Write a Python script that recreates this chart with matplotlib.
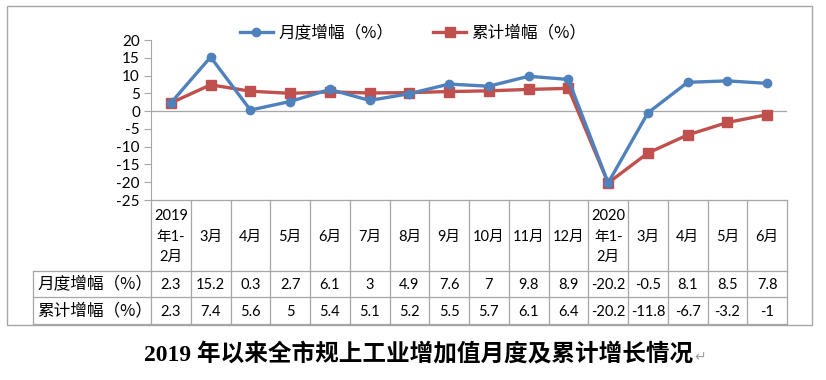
import matplotlib
matplotlib.use('Agg')
import matplotlib.pyplot as plt
from matplotlib.patches import Rectangle

plt.rcParams['font.family'] = ['Lato', 'Noto Sans CJK SC', 'DejaVu Sans']

# data
months = ['2019\n年1-\n2月', '3月', '4月', '5月', '6月', '7月', '8月', '9月', '10月',
          '11月', '12月', '2020\n年1-\n2月', '3月', '4月', '5月', '6月']
monthly = [2.3, 15.2, 0.3, 2.7, 6.1, 3, 4.9, 7.6, 7, 9.8, 8.9, -20.2, -0.5, 8.1, 8.5, 7.8]
cumulative = [2.3, 7.4, 5.6, 5, 5.4, 5.1, 5.2, 5.5, 5.7, 6.1, 6.4, -20.2, -11.8, -6.7, -3.2, -1]
series_names = ['月度增幅（%）', '累计增幅（%）']
yticks = [20, 15, 10, 5, 0, -5, -10, -15, -20, -25]

blue = '#4F81BD'
red = '#C0504D'
grid_c = '#A6A6A6'

W, H = 826, 380
fig = plt.figure(figsize=(W / 100, H / 100), dpi=100)

# background axes in pixel coords for frame, table and title
bg = fig.add_axes([0, 0, 1, 1])
bg.set_xlim(0, W)
bg.set_ylim(H, 0)
bg.axis('off')

left, right, top, bottom = 151, 787, 40, 200
row1, row2, row3 = 271, 297, 324
lab_left = 33

bg.add_patch(Rectangle((7, 6), 805, 319, fill=False, ec=grid_c, lw=1))

ax = fig.add_axes([left / W, 1 - bottom / H, (right - left) / W, (bottom - top) / H])
n = len(months)
xs = [i + 0.5 for i in range(n)]
ax.set_xlim(0, n)
ax.set_ylim(-25, 20)
ax.axhline(0, color=grid_c, lw=0.9, zorder=1)
l1, = ax.plot(xs, monthly, color=blue, lw=2.4, marker='o', ms=6, zorder=3)
l2, = ax.plot(xs, cumulative, color=red, lw=2.4, marker='s', ms=6.5, zorder=2)
ax.set_yticks(yticks)
ax.set_yticklabels([str(v) for v in yticks], fontsize=11)
ax.set_xticks([])
for s in ['top', 'right', 'bottom']:
    ax.spines[s].set_visible(False)
ax.spines['left'].set_color(grid_c)
ax.tick_params(axis='y', length=5, color=grid_c, pad=3, colors='#000000')
ax.patch.set_alpha(0)

leg = fig.legend([l1, l2], series_names, loc='center', bbox_to_anchor=(413 / W, 1 - 33 / H),
                 ncol=2, frameon=False, handlelength=2.0,
                 columnspacing=2.4, handletextpad=0.3,
                 prop={'family': ['Noto Sans CJK SC'], 'size': 12})

# data table
colw = (right - left) / n
lc = grid_c
for i in range(n + 1):
    x = left + i * colw
    bg.plot([x, x], [bottom, row3], color=lc, lw=0.9)
bg.plot([left, right], [bottom, bottom], color=lc, lw=0.9)
for y in [row1, row2, row3]:
    bg.plot([lab_left, right], [y, y], color=lc, lw=0.9)
bg.plot([lab_left, lab_left], [row1, row3], color=lc, lw=0.9)

for i, m in enumerate(months):
    cx = left + (i + 0.5) * colw
    bg.text(cx, (bottom + row1) / 2 + 1, m, ha='center', va='center', fontsize=10.5,
            linespacing=1.55)
    bg.text(cx, (row1 + row2) / 2 + 1, f'{monthly[i]:g}', ha='center', va='center', fontsize=10.5)
    bg.text(cx, (row2 + row3) / 2 + 1, f'{cumulative[i]:g}', ha='center', va='center', fontsize=10.5)

bg.text(lab_left + 4, (row1 + row2) / 2, series_names[0], ha='left', va='center',
        fontsize=12, family=['Noto Sans CJK SC'])
bg.text(lab_left + 4, (row2 + row3) / 2, series_names[1], ha='left', va='center',
        fontsize=12, family=['Noto Sans CJK SC'])

# caption
t = bg.text(144, 355, '2019 年以来全市规上工业增加值月度及累计增长情况', ha='left', va='center',
            fontsize=17, fontweight='bold', family=['Liberation Serif', 'Noto Sans CJK SC'])
fig.canvas.draw()
bb = t.get_window_extent()
bg.text(bb.x1 + 1, 357, '↵', ha='left', va='center', fontsize=10, color='#A0A0A0',
        family=['DejaVu Sans'])

fig.savefig('out.png', dpi=100)
